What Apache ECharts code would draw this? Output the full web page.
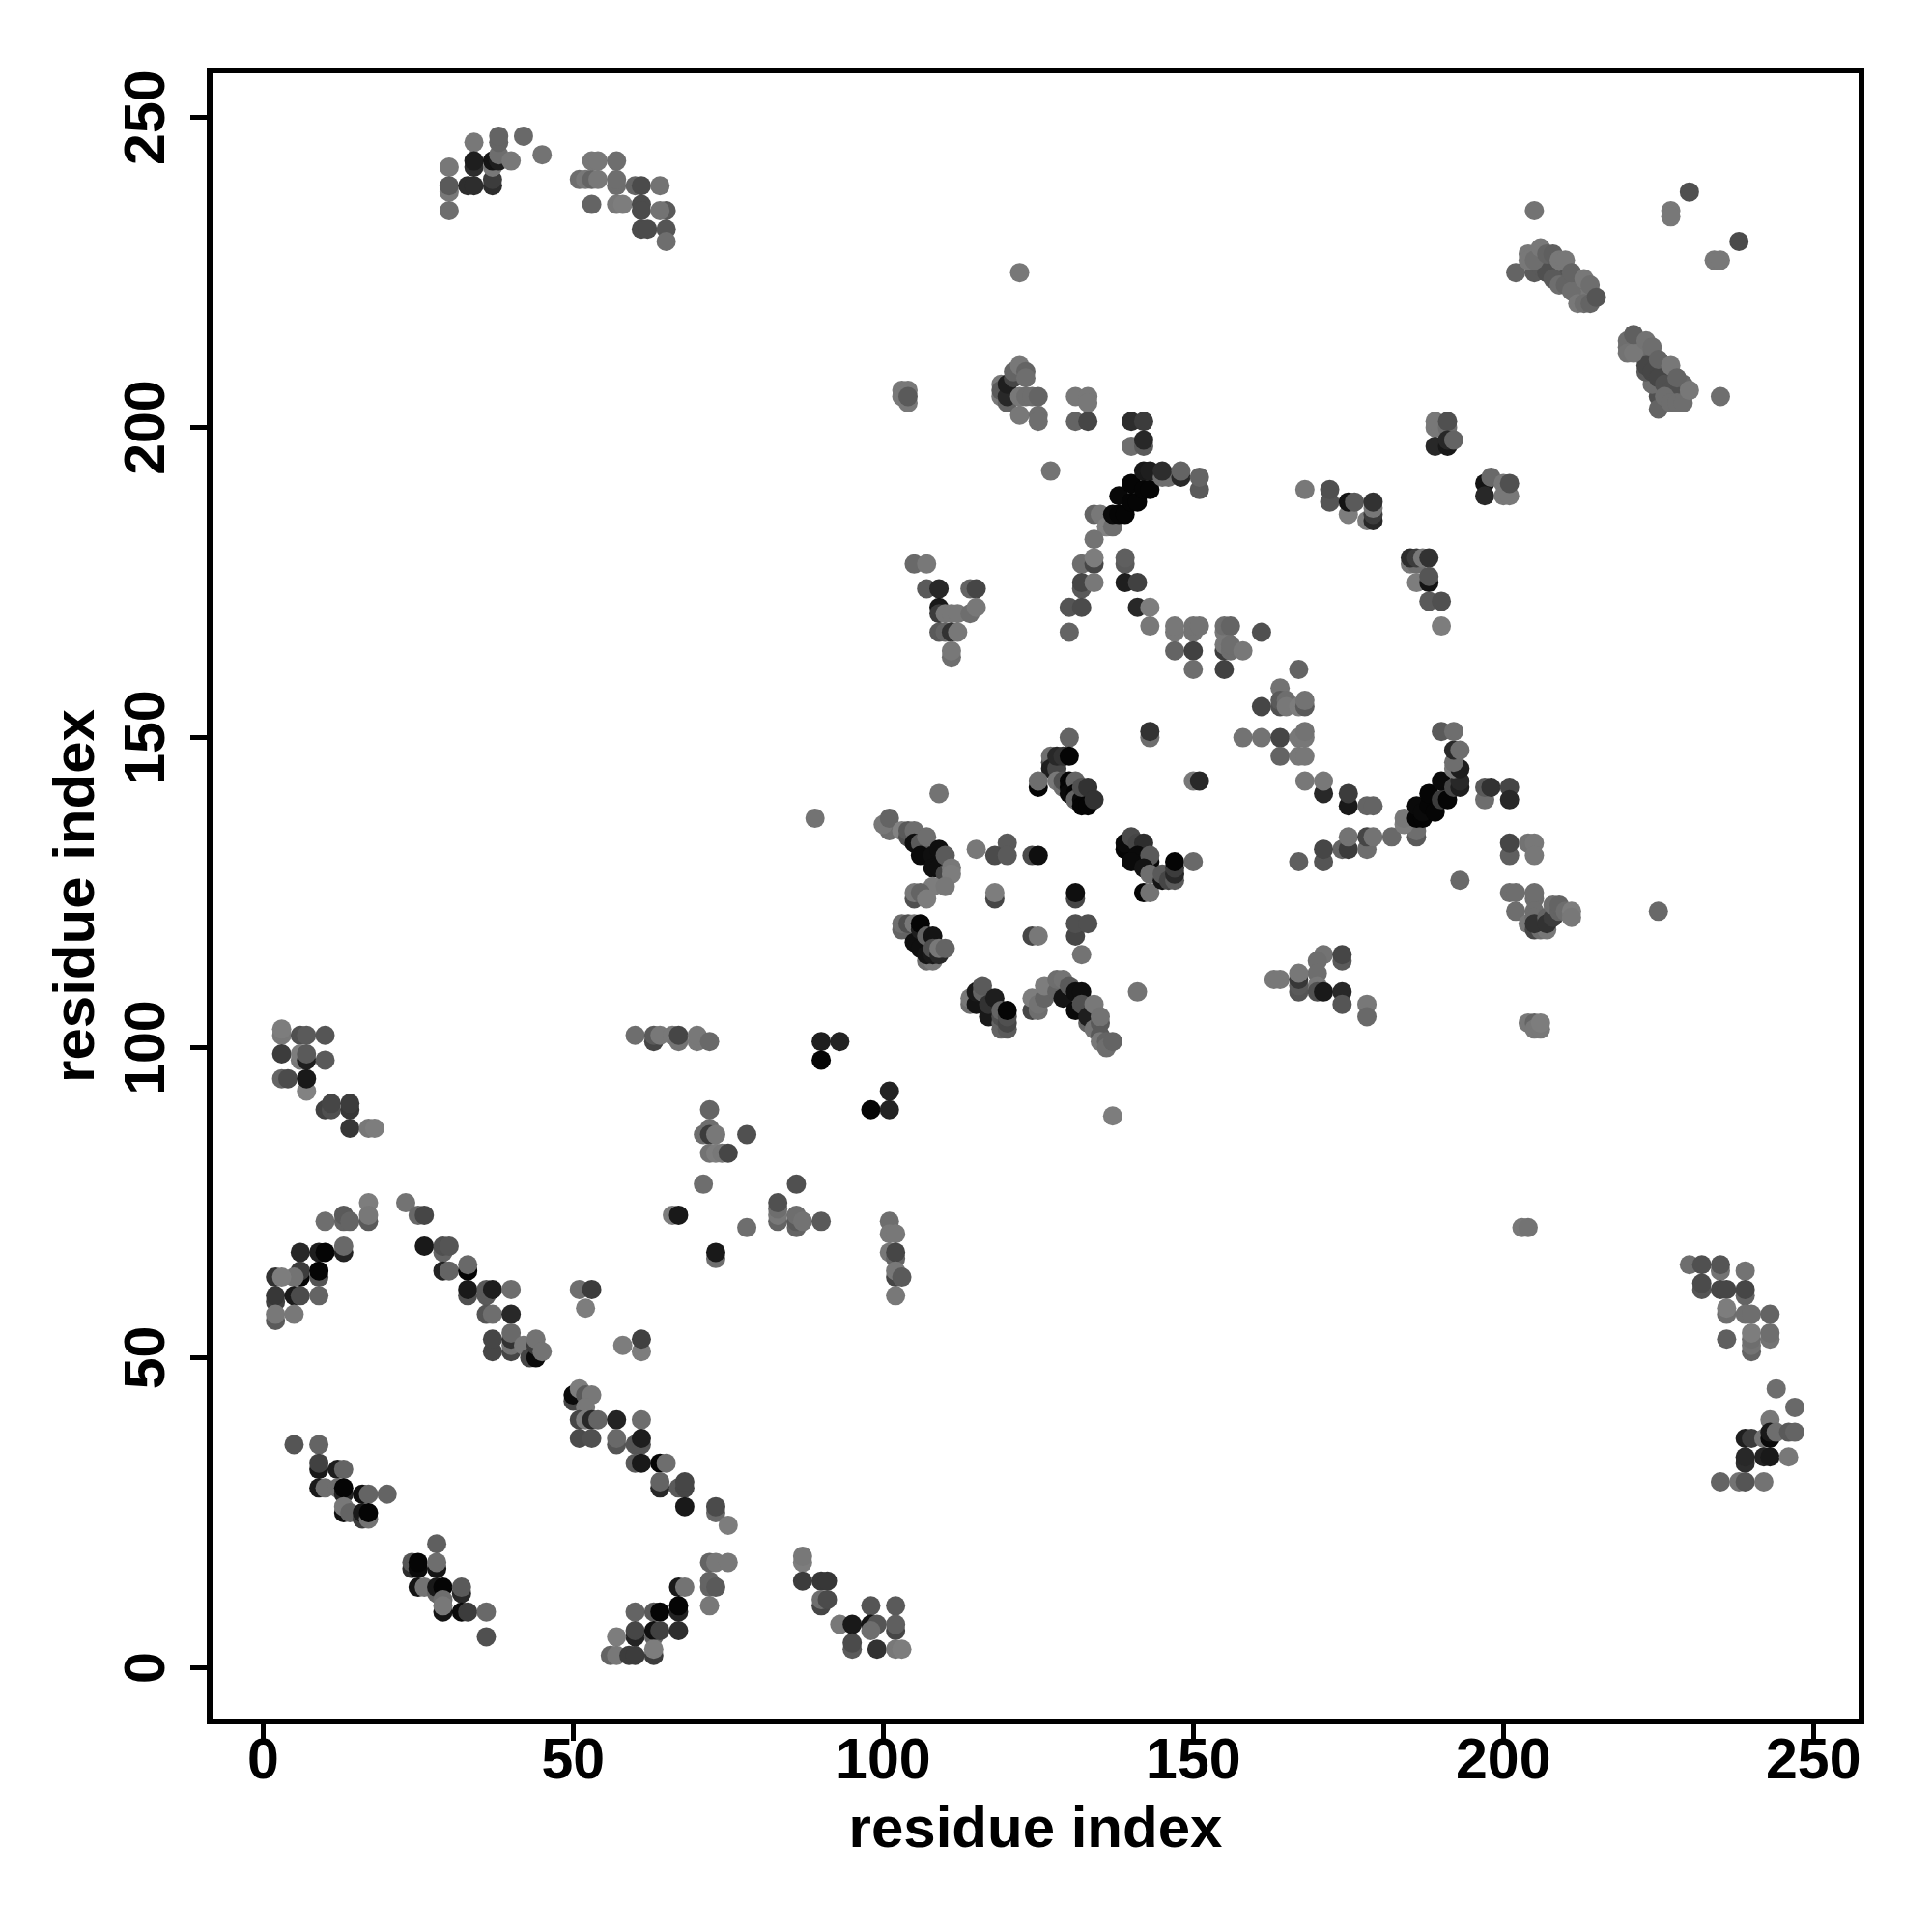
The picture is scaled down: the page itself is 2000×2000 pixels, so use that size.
<!DOCTYPE html>
<html><head><meta charset="utf-8">
<style>html,body{margin:0;padding:0;background:#fff}#c{width:2000px;height:2000px}</style>
<script src="https://cdn.jsdelivr.net/npm/echarts@6/dist/echarts.min.js"></script>
</head><body><div id="c"></div>
<script>
const tickValues = [0, 50, 100, 150, 200, 250];
const axisTitle = "residue index";
// each contact: residue x, residue y, grey level of the mark
const topLeft = [[30,242,120],[34,246,120],[30,238,120],[30,239,90],[30,235,110],[33,239,45],[34,239,45],[34,242,45],[34,243,30],[37,239,45],[37,240,60],[37,242,120],[37,243,20],[38,243,30],[38,244,110],[38,246,100],[38,247,100],[40,243,120],[42,247,105],[45,244,115],
[51,240,110],[52,240,120],[53,240,100],[54,240,120],[53,243,120],[54,243,120],[57,243,110],[57,239,110],[57,240,110],[53,236,100],[57,236,120],[58,236,125],[60,239,100],[61,239,75],[64,239,115],[61,236,75],[61,235,75],[65,235,90],[64,235,115],[61,232,75],[62,232,75],[65,232,85],[65,230,110]];
const topRightDense = [[205,226,100],[206,228,115],[206,227,105],[207,227,110],[207,226,85],[208,226,110],[208,225,80],[209,225,90],[209,226,115],[210,225,110],[210,224,85],[211,224,105],[212,224,115],[212,223,110],[212,222,115],[213,222,110],[213,223,115],[214,222,110],[213,221,110],[212,221,120],[211,223,100],
[221,214,100],[220,213,110],[222,213,110],[222,212,115],[223,212,115],[223,211,110],[224,211,105],[224,210,100],[225,210,110],[225,209,80],[226,210,115],[226,209,110],[226,208,80],[227,208,100],[227,207,75],[228,207,100],[228,206,85],[228,205,100],[229,206,110],[229,205,105],[229,207,105]];
const topRight = [[205,235,115],[230,238,80],[227,235,120],[227,234,120],[238,230,75],[234,227,120],[235,227,120],[202,225,100],
[205,225,90],[205,227,80],[206,226,90],[207,225,80],[208,224,90],[209,223,110],[210,223,100],[211,222,110],[204,228,120],[204,227,120],[205,227,110],[206,229,120],[207,228,100],[208,228,95],[209,227,120],[210,227,120],[211,225,100],[213,224,120],[214,223,110],[212,220,120],[213,220,110],[214,220,100],[215,221,85],
[225,205,80],[225,203,100],[224,207,110],[223,209,90],[223,210,70],[224,209,70],[225,208,70],[226,207,80],[227,206,80],[226,205,110],[227,204,110],[228,204,110],[229,204,110],[220,214,110],[220,212,115],[221,212,120],[221,215,95],[223,214,115],[224,213,110],[225,211,100],[227,210,120],[228,208,100],[230,206,120],[235,205,110]];
const upperMiddle = [[122,225,120],[127,193,115],[103,206,120],[104,206,120],[103,205,120],[104,204,120],[104,205,90],
[119,207,120],[119,205,120],[119,206,90],[120,204,100],[120,205,40],[120,207,30],[121,208,70],[121,209,100],[122,210,120],[123,209,100],[123,208,110],[122,205,120],[123,205,110],[124,205,110],[125,205,100],[122,202,120],[125,202,110],[125,201,110],
[131,205,120],[133,205,120],[133,204,120],[131,201,100],[133,201,70],[140,201,45],[142,201,60],[140,197,110],[142,197,90],[142,198,40],
[134,186,100],[135,186,120],[136,184,130],[137,184,110],[134,182,115],[137,186,10],[138,186,5],[139,186,5],[138,189,8],[140,188,5],[141,188,5],[140,191,5],[142,190,5],[143,190,5],[142,193,25],[143,193,30],[145,192,110],[146,192,110],[145,193,45],[148,192,40],[148,193,100],[151,190,90],[151,192,100],
[139,178,90],[139,179,95],[132,178,110],[134,178,70],[134,179,125],[132,174,90],[132,175,70],[134,175,120],[139,175,30],[141,175,65],[141,171,40],[143,171,125],[130,171,85],[132,171,75],[130,167,100],[143,168,120],
[105,178,105],[107,178,120],[107,174,90],[109,174,40],[114,174,100],[115,174,70],[109,171,25],[109,170,60],[110,170,120],[111,170,120],[112,170,120],[114,170,110],[115,171,120],[109,167,90],[110,167,100],[111,167,50],[112,167,120],[111,163,110],[111,164,120],
[147,167,120],[147,168,120],[150,167,115],[150,168,115],[151,168,115],[147,164,100],[150,164,65],[150,161,110],[155,167,120],[155,168,110],[156,168,100],[155,164,60],[155,165,120],[156,164,110],[156,165,110],[158,164,120],[155,161,65],[161,167,80]];
const upperRight = [[189,200,120],[189,201,120],[191,200,110],[191,201,80],[189,197,40],[191,197,25],[191,198,40],[192,198,100],[197,191,20],[197,189,40],[198,192,105],[200,191,120],[200,189,120],[201,189,120],[201,191,80],
[168,190,120],[172,188,85],[172,190,80],[175,186,125],[175,188,20],[176,188,90],[178,185,125],[179,185,40],[179,186,60],[179,187,120],[179,188,50],
[185,178,120],[186,178,110],[185,179,45],[186,179,60],[187,179,120],[188,179,50],[186,175,125],[188,175,20],[188,176,85],[188,172,90],[190,172,80],[190,168,125],
[167,161,100],[164,158,115],[161,155,70],[164,155,80],[164,156,90],[165,156,110],[165,155,120],[167,155,125],[168,155,90],[168,156,115],[158,150,115],[161,150,115],[164,150,70],[167,150,120],[168,150,120],[168,151,115],[164,147,100],[167,147,120],[168,147,120]];
const middleRight = [[168,143,120],[171,141,40],[171,143,120],[175,139,25],[175,141,60],[178,139,100],[179,139,100],[174,132,100],[175,132,60],[175,134,115],[178,132,110],[178,134,70],[179,134,115],[182,134,105],[171,130,85],[171,132,70],[167,130,95],
[186,134,90],[186,135,110],[184,136,125],[184,137,120],[186,137,5],[186,139,10],[187,137,5],[187,138,10],[188,139,5],[188,141,5],[189,138,5],[190,140,60],[191,140,5],[190,143,10],[192,142,70],[193,142,30],[193,143,40],[192,145,120],[193,145,30],[192,146,110],[192,148,40],[193,148,110],[190,151,90],[192,151,110],
[193,127,105],[197,140,110],[197,142,90],[198,142,50],[201,142,70],[201,140,40],[201,131,95],[201,133,70],[204,133,115],[205,133,120],[205,131,120],[201,125,110],[202,125,110],[205,124,110],[205,125,110],[202,122,110],
[204,120,120],[205,122,110],[205,121,110],[205,119,70],[206,119,110],[207,119,120],[205,120,50],[207,121,100],[207,120,50],[208,121,60],[208,123,110],[209,122,100],[209,123,100],[210,122,110],[211,122,125],[211,121,120],[225,122,105],
[171,115,115],[170,114,110],[174,114,90],[174,115,70],[170,112,110],[170,110,120],[170,109,80],[171,109,25],[174,109,40],[174,107,85],[178,107,120],[178,105,105],[163,111,120],[164,111,120],[167,109,85],[167,110,90],[167,111,55],[167,112,120],[204,104,120],[205,104,100],[205,103,120],[206,103,120],[206,104,125],[203,71,120],[204,71,115]];
const center = [[89,137,115],[130,150,100],[143,150,110],[143,151,50],[150,143,120],[151,143,40],[109,141,115],
[127,146,70],[127,147,110],[128,146,30],[127,145,30],[128,145,70],[128,147,40],[129,147,50],[130,147,5],[125,142,5],[125,143,110],[128,143,120],[129,142,110],[129,143,80],[130,143,5],[130,142,5],[130,141,10],[131,143,100],[131,141,5],[131,140,100],[132,140,10],[132,139,5],[133,139,5],[132,142,80],[133,142,50],[134,140,50],
[101,135,110],[100,136,120],[101,137,100],[103,135,130],[104,134,80],[104,135,90],[105,135,110],[105,133,15],[106,133,90],[107,134,110],[106,131,10],[108,131,15],[109,132,15],[108,129,15],[109,129,15],[110,131,90],[110,128,70],[111,129,120],[111,128,125],
[115,132,120],[120,133,90],[118,131,75],[120,131,90],[124,131,75],[125,131,15],[108,126,125],[110,126,120],[105,124,80],[105,125,120],[106,125,100],[107,124,125],[118,124,70],[118,125,125],[131,124,70],[131,125,15],
[142,125,5],[143,125,115],[139,132,5],[139,133,10],[140,134,75],[141,133,70],[142,133,45],[141,131,10],[143,130,10],[143,131,90],[140,130,10],[142,129,20],[143,128,110],[145,127,20],[145,128,90],[146,127,70],[147,127,90],[147,128,40],[147,129,60],[147,130,5],[150,130,105],
[103,119,100],[103,120,110],[104,120,80],[105,120,120],[105,117,15],[106,119,30],[106,120,5],[106,116,15],[107,118,100],[108,118,20],[107,114,110],[108,114,120],[107,115,20],[108,115,25],[108,116,80],[109,115,40],[109,116,120],[110,116,100],
[124,118,70],[125,118,120],[131,118,70],[131,120,80],[133,120,80],[132,115,115],[141,109,115],[137,89,125],
[114,107,110],[114,108,120],[115,107,20],[115,109,25],[116,109,100],[116,110,90],[117,105,25],[117,107,50],[118,108,30],[119,103,100],[119,104,100],[119,105,80],[119,106,100],[120,103,90],[120,104,70],[120,105,80],[120,106,5],
[124,106,70],[124,108,125],[125,106,110],[125,107,115],[126,108,100],[126,110,125],[128,109,100],[128,111,110],[129,111,115],[129,108,20],[130,110,90],[131,109,15],[132,109,15],[131,106,10],[132,107,80],[133,104,100],[133,105,30],[134,107,120],[134,103,115],[135,104,90],[135,105,115],[135,102,90],[135,101,120],[136,101,100],[136,100,110],[137,101,100]];
const lowerCentre = [[90,101,30],[93,101,35],[90,98,5],[101,93,35],[98,90,5],[101,90,35],[60,102,110],[63,101,70],[63,102,90],[64,102,120],[66,102,120],[67,101,115],[67,102,70],[70,101,120],[70,102,120],[72,101,105],
[72,90,100],[72,87,110],[71,86,110],[72,86,60],[73,86,120],[78,86,80],[72,83,115],[73,83,125],[74,83,120],[75,83,70],[71,78,110],[86,78,80],[83,72,100],[83,73,120],[83,74,110],[83,75,80],[86,71,100],[86,72,90],[86,73,110],[87,72,115],[90,72,90],[66,73,125],[67,73,25],[78,71,110],[73,66,110],[73,67,25],
[101,72,110],[101,70,120],[102,70,120],[101,67,120],[102,66,100],[102,67,70],[102,63,70],[102,64,120],[103,63,90],[102,60,120]];
const lowerLeft = [[3,102,120],[3,103,125],[6,102,80],[7,102,90],[10,102,85],[3,99,60],[6,98,120],[6,99,125],[7,98,30],[7,99,90],[10,98,90],[3,95,100],[4,95,75],[7,93,130],[7,95,25],[10,90,65],[11,90,80],[11,91,70],[14,90,55],[14,91,60],[14,87,55],[17,87,120],[18,87,125],
[17,75,125],[23,75,115],[10,72,110],[13,72,100],[13,73,90],[14,72,100],[17,72,90],[17,73,120],[25,73,105],[26,73,70],[6,67,40],[9,67,30],[10,67,5],[13,67,35],[13,68,105],[26,68,25],[29,67,100],[29,68,80],[30,68,85],
[6,63,5],[6,64,60],[9,63,85],[9,64,5],[5,63,115],[2,63,50],[3,63,125],[2,59,65],[2,60,55],[5,60,25],[6,60,75],[9,60,100],[2,56,90],[2,57,120],[5,57,120],
[29,64,35],[30,64,100],[33,64,5],[33,65,105],[33,60,80],[33,61,25],[36,60,90],[36,61,90],[37,61,30],[40,61,110],[36,57,85],[37,57,110],[40,57,40],[37,51,70],[37,53,70],[40,51,70],[40,52,115],[40,53,50],[40,54,105],[42,52,120],[43,50,70],[44,50,10],[44,52,60],[44,53,115],[45,51,115]];
const lowerDiagonal = [[51,61,110],[53,61,60],[52,58,125],[58,52,125],[61,51,125],[61,53,65],[50,43,70],[50,44,10],[51,45,125],[52,44,90],[53,44,120],[52,42,120],[51,40,70],[52,40,125],[53,40,40],[54,40,100],[57,40,35],[61,40,110],
[51,37,75],[53,37,80],[57,36,85],[57,37,105],[60,36,85],[61,36,85],[61,37,30],[60,33,90],[61,33,25],[64,33,5],[65,33,110],[64,29,40],[64,30,100],[67,29,90],[68,29,70],[68,30,70],[68,26,25],[73,25,105],[73,26,75],[75,23,125],
[72,17,100],[73,17,120],[75,17,120],[72,13,100],[72,14,100],[73,13,90],[72,10,120],[67,13,25],[68,13,115],[67,9,35],[67,10,5],[60,9,100],[63,9,90],[64,9,5],[60,5,35],[60,6,70],[57,5,125],[63,5,100],[63,6,15],[64,6,65],[67,6,45],
[56,2,100],[57,2,120],[59,2,60],[60,2,60],[63,2,60],[63,3,125],
[87,17,125],[87,18,120],[87,14,60],[90,14,55],[91,14,55],[90,10,70],[90,11,110],[91,11,75],[98,10,85],[102,10,90],[93,7,120],[95,7,25],[98,7,20],[99,7,85],[98,6,110],[102,6,70],[102,7,95],[95,3,90],[95,4,75],[99,3,50],[102,3,120],[103,3,125]];
const bottomLeft = [[5,36,85],[9,36,100],[9,32,25],[9,33,65],[12,32,30],[13,32,100],[9,29,25],[10,29,110],[12,29,110],[13,28,35],[13,29,5],[16,28,15],[17,28,100],[20,28,100],[13,25,15],[13,26,120],[14,25,100],[16,24,60],[16,25,25],[17,24,115],[17,25,5],
[28,20,95],[24,16,45],[24,17,85],[25,16,10],[25,17,5],[28,16,20],[28,17,110],[25,13,20],[26,13,115],[28,12,100],[28,13,25],[29,13,5],[32,12,40],[32,13,90],[29,11,110],[29,9,20],[29,10,120],[32,9,10],[33,9,60],[36,9,105],[36,5,80]];
const bottomRight = [[230,65,110],[232,65,80],[235,64,115],[235,65,85],[239,64,115],[232,61,85],[232,62,75],[235,61,70],[236,61,70],[239,60,100],[239,61,70],[236,57,110],[236,58,125],[239,57,110],[240,57,110],[243,57,100],[236,53,95],[240,51,100],[240,52,115],[240,53,110],[240,54,125],[243,53,115],[243,54,110],
[244,45,110],[247,42,105],[243,40,120],[239,37,30],[240,37,60],[242,37,115],[243,37,10],[243,38,25],[244,38,110],[246,38,90],[247,38,100],[239,33,45],[239,34,40],[242,34,35],[243,34,25],[246,34,120],[235,30,100],[238,30,115],[239,30,85],[242,30,115]];

const contacts = [].concat(topLeft, topRightDense, topRight, upperMiddle, upperRight, middleRight, center, lowerCentre, lowerLeft, lowerDiagonal, bottomLeft, bottomRight);

const font = "Liberation Sans";
const labelStyle = {show:true,fontFamily:font,fontWeight:"bold",fontSize:59,color:"#000",customValues:tickValues};
function axis(extra){
  return Object.assign({
    type:"value", name:axisTitle, nameLocation:"middle",
    nameTextStyle:{fontFamily:font,fontWeight:"bold",fontSize:60,color:"#000"},
    axisLine:{show:false,onZero:false},
    axisTick:{show:true,length:20,lineStyle:{color:"#000",width:5},customValues:tickValues},
    splitLine:{show:false}
  },extra);
}
const chart = echarts.init(document.getElementById("c"),null,{renderer:"canvas"});
chart.setOption({
  backgroundColor:"#fff",
  animation:false,
  grid:{left:217,top:73,width:1710,height:1709,show:true,borderColor:"#000",borderWidth:6,backgroundColor:"#fff"},
  xAxis:axis({min:-8.62,max:257.75,nameGap:83,position:"bottom",
    axisLabel:Object.assign({margin:13},labelStyle)}),
  yAxis:axis({min:-8.64,max:257.58,nameGap:107,position:"left",
    axisLabel:Object.assign({margin:34,rotate:90,align:"center",verticalAlign:"bottom"},labelStyle)}),
  series:[{type:"scatter",symbol:"circle",symbolSize:20,silent:true,
    data:contacts,
    itemStyle:{color:function(p){const g=p.value[2];return "rgb("+g+","+g+","+g+")";},opacity:1}}]
});
</script></body></html>
